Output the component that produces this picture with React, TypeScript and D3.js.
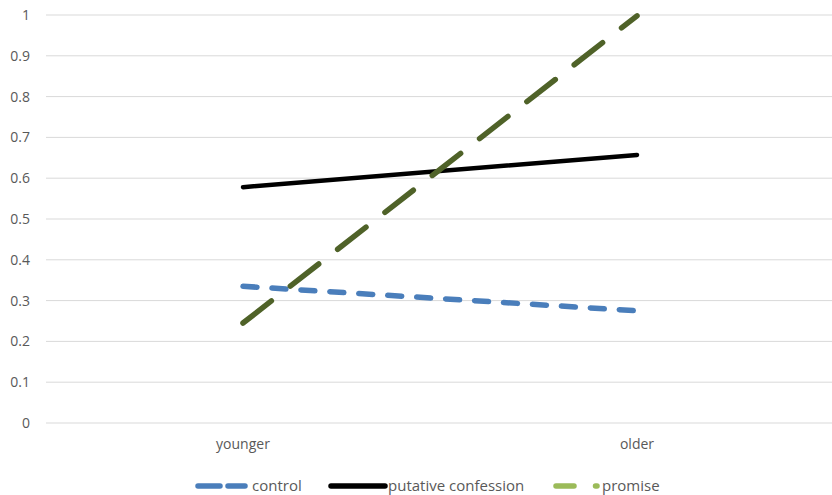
import React from "react";
import * as d3 from "d3";

const categories = ["younger", "older"];
const control = [0.335, 0.275];
const putative = [0.578, 0.657];
const promise = [0.245, 0.998];
const yTicks = [0, 0.1, 0.2, 0.3, 0.4, 0.5, 0.6, 0.7, 0.8, 0.9, 1];

const W = 832, H = 495;
const left = 46, right = 834, top = 15, bottom = 423;

export default function App() {
  const x = d3.scaleBand<string>().domain(categories).range([left, right]);
  const y = d3.scaleLinear().domain([0, 1]).range([bottom, top]);
  const cx = (c: string) => (x(c) as number) + x.bandwidth() / 2;
  const line = d3.line<number>().x((_, i) => cx(categories[i])).y((d) => y(d));
  const font = "'Open Sans', 'Liberation Sans', sans-serif";
  const tickFmt = (v: number) => (v === 0 ? "0" : v === 1 ? "1" : d3.format(".1f")(v));
  return (
    <svg width={W} height={H} style={{ position: "absolute", left: 0, top: 0, background: "#fff" }}>
      {yTicks.map((t) => (
        <g key={t}>
          <line x1={left} x2={right} y1={y(t)} y2={y(t)} stroke="#d9d9d9" strokeWidth={1} />
          <text x={30} y={y(t)} dy="0.35em" textAnchor="end" fontFamily={font} fontSize={14} fill="#595959">
            {tickFmt(t)}
          </text>
        </g>
      ))}
      {categories.map((c) => (
        <text key={c} x={cx(c)} y={444} dy="0.35em" textAnchor="middle" fontFamily={font} fontSize={14} fill="#595959">
          {c}
        </text>
      ))}
      <path d={line(control) || ""} fill="none" stroke="#4a7ebb" strokeWidth={5.5} strokeDasharray="14 15" strokeLinecap="round" />
      <path d={line(putative) || ""} fill="none" stroke="#000" strokeWidth={4.5} strokeLinecap="round" />
      <path d={line(promise) || ""} fill="none" stroke="#4f6228" strokeWidth={5.5} strokeDasharray="36 24" strokeLinecap="round" />
      {/* legend */}
      <g fontFamily={font} fontSize={15} fill="#595959">
        <line x1={198} x2={245} y1={486} y2={486} stroke="#4a7ebb" strokeWidth={5.5} strokeDasharray="22 8" strokeLinecap="round" />
        <text x={252} y={486} dy="0.35em">control</text>
        <line x1={331} x2={385} y1={486} y2={486} stroke="#000" strokeWidth={5.5} strokeLinecap="round" />
        <text x={388} y={486} dy="0.35em">putative confession</text>
        <line x1={556} x2={597} y1={486} y2={486} stroke="#9bbb59" strokeWidth={5.5} strokeDasharray="18 21.5" strokeLinecap="round" />
        <text x={602} y={486} dy="0.35em">promise</text>
      </g>
    </svg>
  );
}
